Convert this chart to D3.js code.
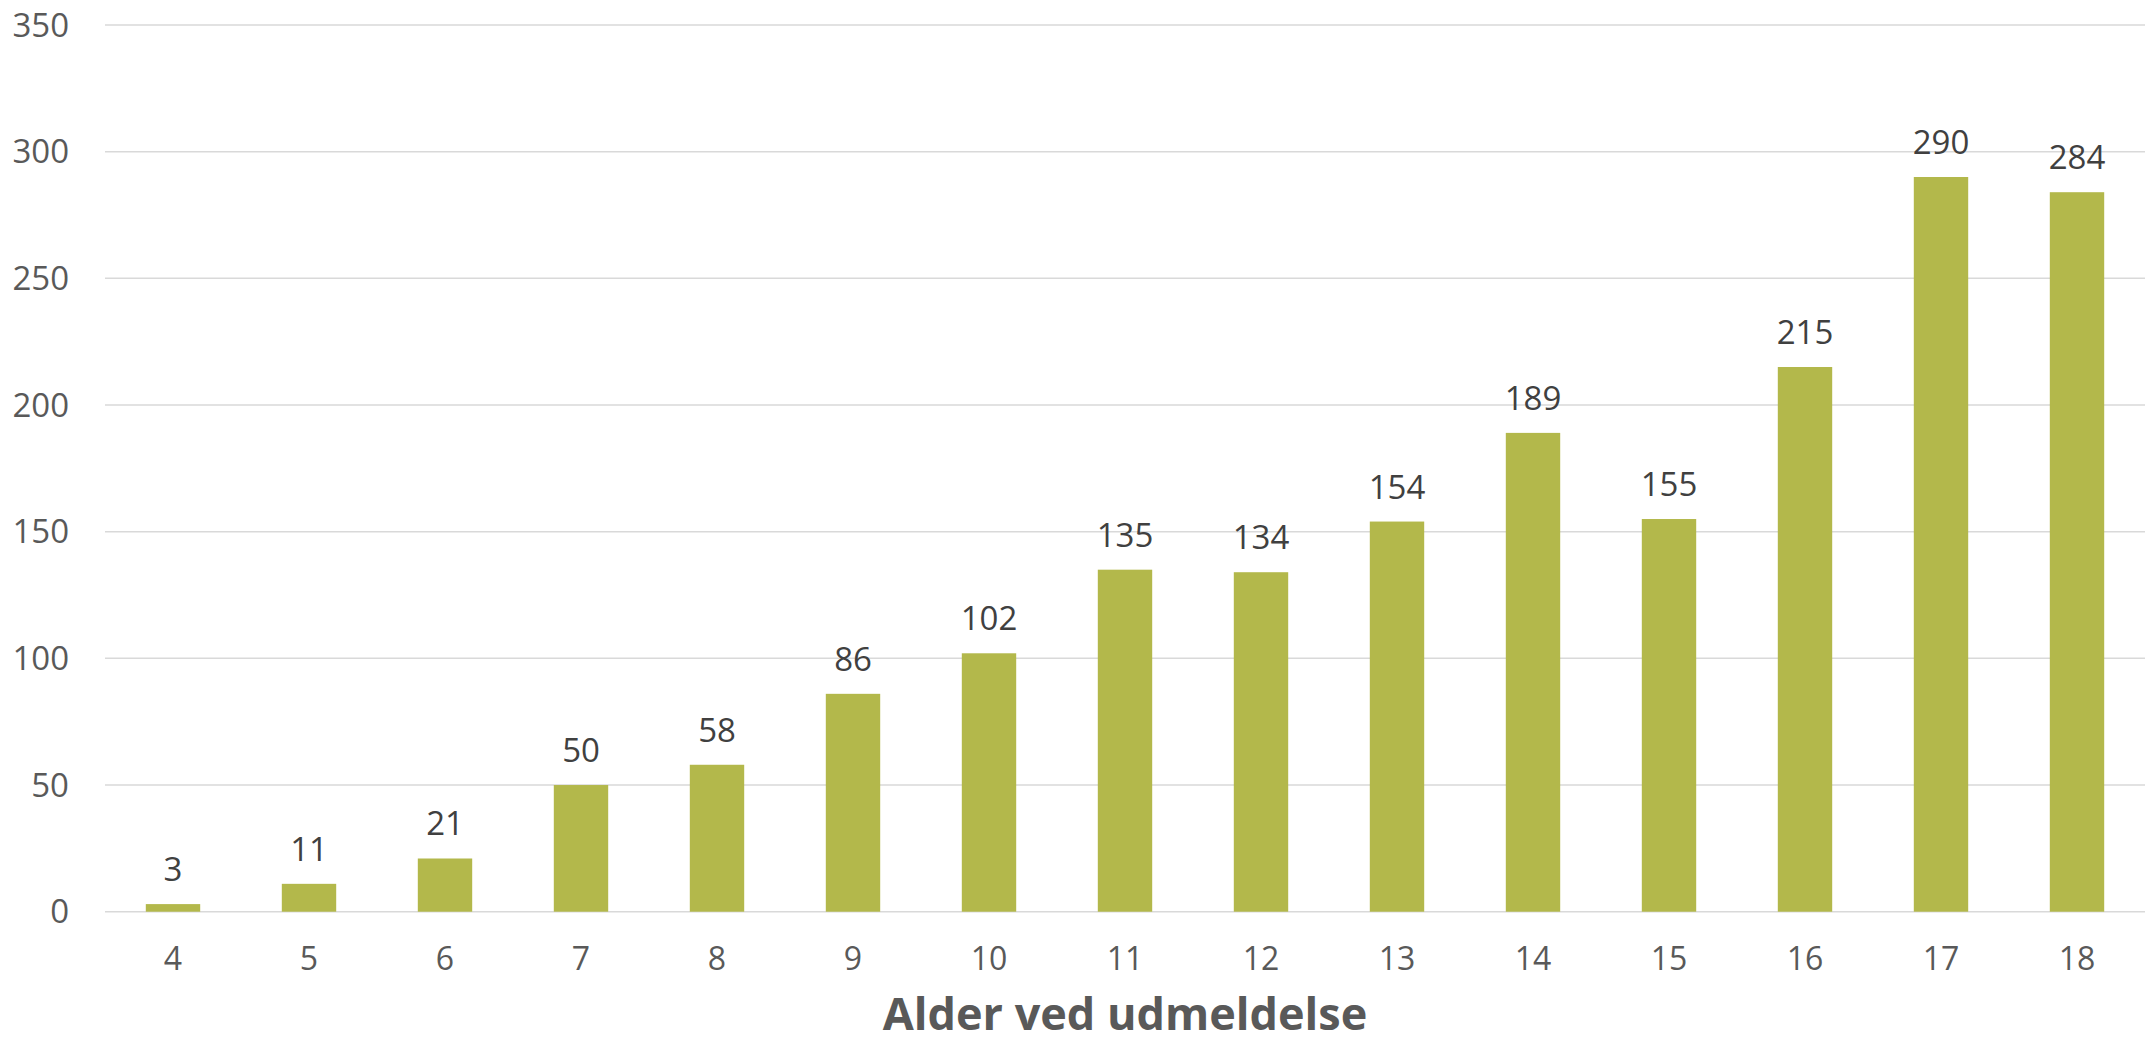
<!DOCTYPE html>
<html>
<head>
<meta charset="utf-8">
<script src="https://cdn.jsdelivr.net/npm/d3@7"></script>
<style>
  html, body { margin: 0; padding: 0; background: #fff; }
  svg { display: block; }
</style>
</head>
<body>
<svg id="chart" width="2149" height="1044"></svg>
<script>
// Ages at withdrawal and the number of withdrawals per age
const ages = ["4", "5", "6", "7", "8", "9", "10", "11", "12", "13", "14", "15", "16", "17", "18"];
const counts = [3, 11, 21, 50, 58, 86, 102, 135, 134, 154, 189, 155, 215, 290, 284];
const yTicks = [0, 50, 100, 150, 200, 250, 300, 350];
const xTitle = "Alder ved udmeldelse";

const svg = d3.select("#chart");
const font = "'Open Sans', 'Noto Sans', sans-serif";

const plot = { left: 105, right: 2145, top: 25, bottom: 911.7 };

const x = d3.scaleBand()
  .domain(ages)
  .range([plot.left, plot.right])
  .paddingInner(0.6)
  .paddingOuter(0.3);

const y = d3.scaleLinear()
  .domain([0, 350])
  .range([plot.bottom, plot.top]);

// Horizontal gridlines
svg.append("g")
  .selectAll("line")
  .data(yTicks)
  .join("line")
  .attr("x1", plot.left)
  .attr("x2", plot.right)
  .attr("y1", d => y(d))
  .attr("y2", d => y(d))
  .attr("stroke", "#d9d9d9")
  .attr("stroke-width", 1.5);

// Y axis labels
const yAxis = d3.axisLeft(y).tickValues(yTicks).tickSize(0).tickPadding(36);
svg.append("g")
  .attr("transform", `translate(${plot.left},0)`)
  .call(yAxis)
  .call(g => g.select(".domain").remove())
  .call(g => g.selectAll("text")
    .attr("font-family", font)
    .attr("font-size", 33)
    .attr("fill", "#595959")
    .attr("dy", "0.34em"));

// Bars
svg.append("g")
  .selectAll("rect")
  .data(counts)
  .join("rect")
  .attr("x", (d, i) => x(ages[i]))
  .attr("width", x.bandwidth())
  .attr("y", d => y(d))
  .attr("height", d => y(0) - y(d))
  .attr("fill", "#b3b84b");

// Value labels above bars
svg.append("g")
  .selectAll("text")
  .data(counts)
  .join("text")
  .attr("x", (d, i) => x(ages[i]) + x.bandwidth() / 2)
  .attr("y", d => y(d) - 23)
  .attr("text-anchor", "middle")
  .attr("font-family", font)
  .attr("font-size", 33)
  .attr("fill", "#404040")
  .text(d => d);

// X axis labels
const xAxis = d3.axisBottom(x).tickSize(0).tickPadding(0);
svg.append("g")
  .attr("transform", `translate(0,${plot.bottom})`)
  .call(xAxis)
  .call(g => g.select(".domain").remove())
  .call(g => g.selectAll("text")
    .attr("font-family", font)
    .attr("font-size", 32)
    .attr("fill", "#595959")
    .attr("dy", null)
    .attr("y", 58));

// Axis title
svg.append("text")
  .attr("x", (plot.left + plot.right) / 2)
  .attr("y", 1030)
  .attr("text-anchor", "middle")
  .attr("font-family", font)
  .attr("font-weight", "bold")
  .attr("font-size", 45)
  .attr("fill", "#595959")
  .text(xTitle);
</script>
</body>
</html>
